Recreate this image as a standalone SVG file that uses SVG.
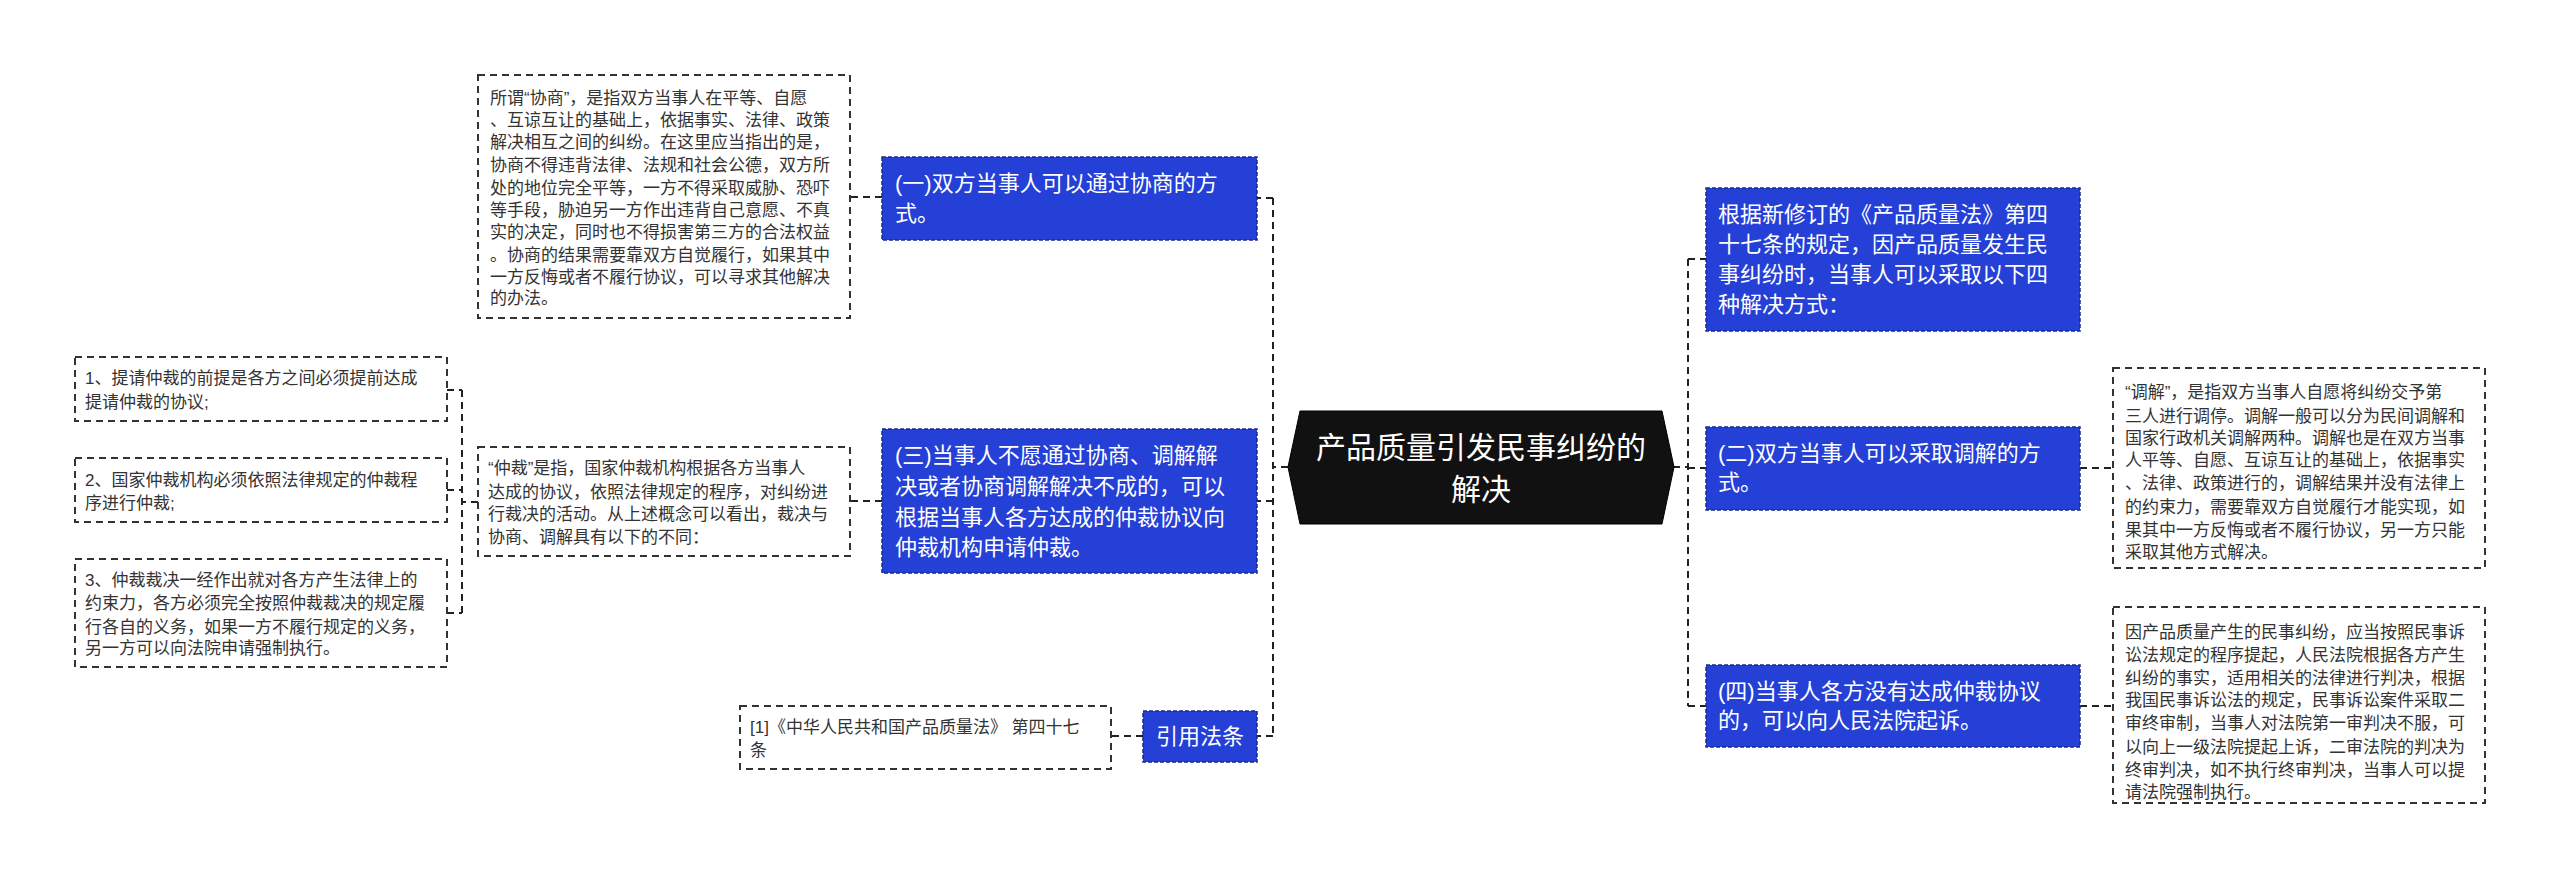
<svg xmlns="http://www.w3.org/2000/svg" width="2560" height="881" viewBox="0 0 2560 881">
<style>
.blue{fill:#2440d6;stroke:#1a2a8a;stroke-width:1.5;stroke-dasharray:4,2}
.desc{fill:#fff;stroke:#333;stroke-width:2;stroke-dasharray:7,5}
.bt{font-family:"Liberation Sans","Noto Sans CJK SC",sans-serif;font-size:22px;fill:#fff}
.dt{font-family:"Liberation Sans","Noto Sans CJK SC",sans-serif;font-size:17px;fill:#333}
.ct{font-family:"Liberation Sans","Noto Sans CJK SC",sans-serif;font-size:30px;fill:#fff;text-anchor:middle}
.ln{fill:none;stroke:#222;stroke-width:2;stroke-dasharray:7,5}
</style>
<rect width="2560" height="881" fill="#fff"/>
<g id="connectors">
<path class="ln" d="M1288,467 H1273 M1273,198 V736 M1273,198 H1257 M1273,501 H1257 M1273,736 H1257"/>
<path class="ln" d="M882,197 H850 M882,501 H850 M1143,736 H1111"/>
<path class="ln" d="M478,502 H462 M462,390 V613 M447,390 H462 M447,490 H462 M447,613 H462"/>
<path class="ln" d="M1673,467 H1688 M1688,259 V706 M1688,259 H1706 M1688,468 H1706 M1688,706 H1706"/>
<path class="ln" d="M2080,468 H2113 M2080,706 H2113"/>
</g>
<g id="center">
<polygon points="1300,411 1662,411 1674,467 1662,524 1300,524 1288,467" fill="#111" stroke="#000"/>
<text class="ct"><tspan x="1481" y="458">产品质量引发民事纠纷的</tspan><tspan x="1481" y="500">解决</tspan></text>
</g>
<g id="n1">
<rect class="blue" x="882" y="157" width="375" height="83"/>
<text class="bt"><tspan x="895" y="191">(一)双方当事人可以通过协商的方</tspan><tspan x="895" y="221">式。</tspan></text>
</g>
<g id="n1d">
<rect class="desc" x="478" y="75" width="372" height="243"/>
<text class="dt"><tspan x="490" y="104">所谓“协商”，是指双方当事人在平等、自愿</tspan><tspan x="490" y="126">、互谅互让的基础上，依据事实、法律、政策</tspan><tspan x="490" y="148">解决相互之间的纠纷。在这里应当指出的是，</tspan><tspan x="490" y="171">协商不得违背法律、法规和社会公德，双方所</tspan><tspan x="490" y="194">处的地位完全平等，一方不得采取威胁、恐吓</tspan><tspan x="490" y="216">等手段，胁迫另一方作出违背自己意愿、不真</tspan><tspan x="490" y="238">实的决定，同时也不得损害第三方的合法权益</tspan><tspan x="490" y="261">。协商的结果需要靠双方自觉履行，如果其中</tspan><tspan x="490" y="283">一方反悔或者不履行协议，可以寻求其他解决</tspan><tspan x="490" y="304">的办法。</tspan></text>
</g>
<g id="n3">
<rect class="blue" x="882" y="429" width="375" height="144"/>
<text class="bt"><tspan x="895" y="463">(三)当事人不愿通过协商、调解解</tspan><tspan x="895" y="494">决或者协商调解解决不成的，可以</tspan><tspan x="895" y="525">根据当事人各方达成的仲裁协议向</tspan><tspan x="895" y="555">仲裁机构申请仲裁。</tspan></text>
</g>
<g id="n3d">
<rect class="desc" x="478" y="447" width="372" height="109"/>
<text class="dt"><tspan x="488" y="474"> “仲裁”是指，国家仲裁机构根据各方当事人</tspan><tspan x="488" y="498">达成的协议，依照法律规定的程序，对纠纷进</tspan><tspan x="488" y="520">行裁决的活动。从上述概念可以看出，裁决与</tspan><tspan x="488" y="543">协商、调解具有以下的不同：</tspan></text>
</g>
<g id="a1">
<rect class="desc" x="75" y="357" width="372" height="64"/>
<text class="dt"><tspan x="85" y="384">1、提请仲裁的前提是各方之间必须提前达成</tspan><tspan x="85" y="408">提请仲裁的协议;</tspan></text>
</g>
<g id="a2">
<rect class="desc" x="75" y="458" width="372" height="64"/>
<text class="dt"><tspan x="85" y="486">2、国家仲裁机构必须依照法律规定的仲裁程</tspan><tspan x="85" y="509">序进行仲裁;</tspan></text>
</g>
<g id="a3">
<rect class="desc" x="75" y="559" width="372" height="108"/>
<text class="dt"><tspan x="85" y="586">3、仲裁裁决一经作出就对各方产生法律上的</tspan><tspan x="85" y="609">约束力，各方必须完全按照仲裁裁决的规定履</tspan><tspan x="85" y="633">行各自的义务，如果一方不履行规定的义务，</tspan><tspan x="85" y="654">另一方可以向法院申请强制执行。</tspan></text>
</g>
<g id="cite">
<rect class="blue" x="1143" y="711" width="114" height="51"/>
<text class="bt"><tspan x="1156" y="744">引用法条</tspan></text>
</g>
<g id="cited">
<rect class="desc" x="740" y="706" width="371" height="63"/>
<text class="dt"><tspan x="750" y="733">[1]《中华人民共和国产品质量法》 第四十七</tspan><tspan x="750" y="756">条</tspan></text>
</g>
<g id="r0">
<rect class="blue" x="1706" y="188" width="374" height="143"/>
<text class="bt"><tspan x="1718" y="222">根据新修订的《产品质量法》第四</tspan><tspan x="1718" y="252">十七条的规定，因产品质量发生民</tspan><tspan x="1718" y="282">事纠纷时，当事人可以采取以下四</tspan><tspan x="1718" y="312">种解决方式：</tspan></text>
</g>
<g id="r2">
<rect class="blue" x="1706" y="427" width="374" height="83"/>
<text class="bt"><tspan x="1718" y="461">(二)双方当事人可以采取调解的方</tspan><tspan x="1718" y="490">式。</tspan></text>
</g>
<g id="r2d">
<rect class="desc" x="2113" y="368" width="372" height="200"/>
<text class="dt"><tspan x="2125" y="398"> “调解”，是指双方当事人自愿将纠纷交予第</tspan><tspan x="2125" y="422">三人进行调停。调解一般可以分为民间调解和</tspan><tspan x="2125" y="444">国家行政机关调解两种。调解也是在双方当事</tspan><tspan x="2125" y="466">人平等、自愿、互谅互让的基础上，依据事实</tspan><tspan x="2125" y="489">、法律、政策进行的，调解结果并没有法律上</tspan><tspan x="2125" y="513">的约束力，需要靠双方自觉履行才能实现，如</tspan><tspan x="2125" y="536">果其中一方反悔或者不履行协议，另一方只能</tspan><tspan x="2125" y="558">采取其他方式解决。</tspan></text>
</g>
<g id="r4">
<rect class="blue" x="1706" y="665" width="374" height="82"/>
<text class="bt"><tspan x="1718" y="699">(四)当事人各方没有达成仲裁协议</tspan><tspan x="1718" y="728">的，可以向人民法院起诉。</tspan></text>
</g>
<g id="r4d">
<rect class="desc" x="2113" y="607" width="372" height="196"/>
<text class="dt"><tspan x="2125" y="638">因产品质量产生的民事纠纷，应当按照民事诉</tspan><tspan x="2125" y="661">讼法规定的程序提起，人民法院根据各方产生</tspan><tspan x="2125" y="684">纠纷的事实，适用相关的法律进行判决，根据</tspan><tspan x="2125" y="706">我国民事诉讼法的规定，民事诉讼案件采取二</tspan><tspan x="2125" y="729">审终审制，当事人对法院第一审判决不服，可</tspan><tspan x="2125" y="753">以向上一级法院提起上诉，二审法院的判决为</tspan><tspan x="2125" y="776">终审判决，如不执行终审判决，当事人可以提</tspan><tspan x="2125" y="798">请法院强制执行。</tspan></text>
</g>
</svg>
